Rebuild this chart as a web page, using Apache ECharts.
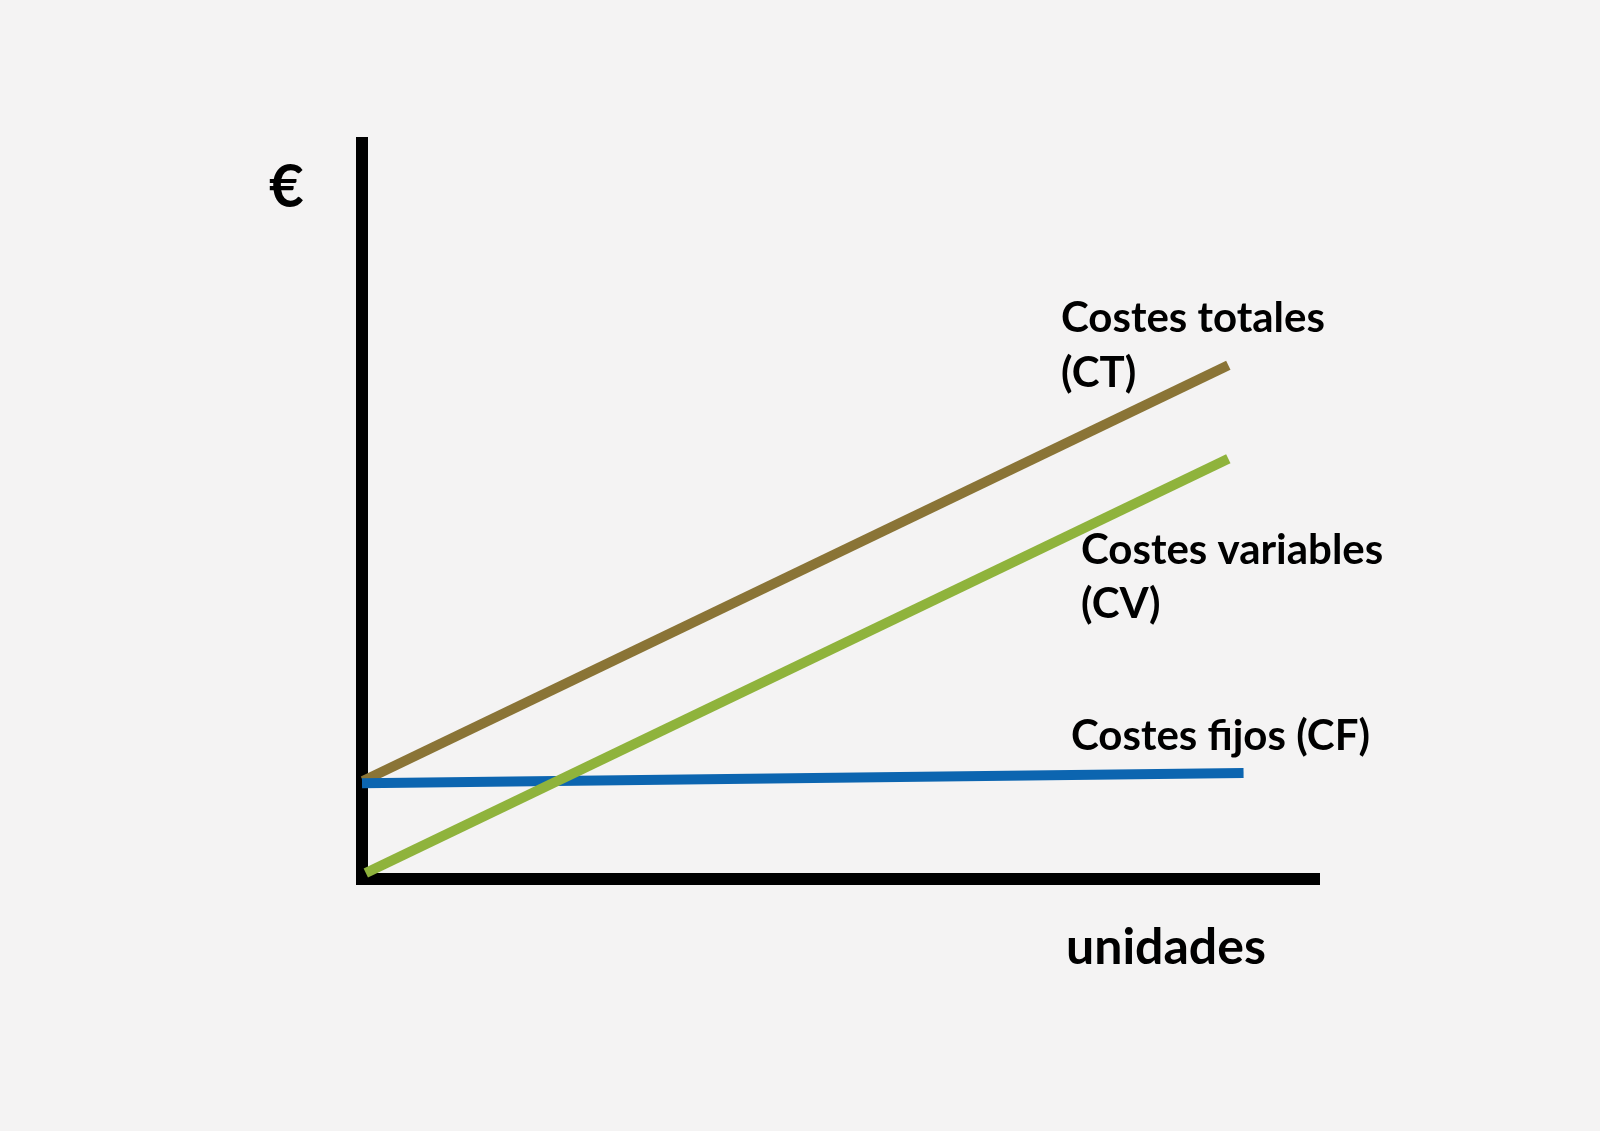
<!DOCTYPE html>
<html>
<head>
<meta charset="utf-8">
<script src="https://cdn.jsdelivr.net/npm/echarts@6/dist/echarts.min.js"></script>
<style>
html,body{margin:0;padding:0;background:#f4f3f3;}
#c{width:1600px;height:1131px;}
</style>
</head>
<body>
<div id="c"></div>
<script>
// Data (x: unidades, y: €), arbitrary 0-100 scale
const costesTotales = [[0.1, 13.3], [91.0, 69.8]];
const costesVariables = [[0.4, 0.8], [91.0, 57.1]];
const costesFijos = [[0.0, 13.0], [92.6, 14.4]];

const labelCT = ['Costes totales', '(CT)'];
const labelCV = ['Costes variables', '(CV)'];
const labelCF = 'Costes fijos (CF)';
const xName = 'unidades';
const yName = '€';

const chart = echarts.init(document.getElementById('c'), null, {renderer: 'canvas'});
const font = (s) => 'bold ' + s + 'px Lato';
function txt(t, x, y, size) {
  return {type: 'text', style: {text: t, x: x, y: y, font: font(size), fill: '#000', textVerticalAlign: 'middle'}};
}
chart.setOption({
  backgroundColor: '#f4f3f3',
  animation: false,
  grid: {left: 362, right: 286, top: 143, bottom: 252},
  xAxis: {
    type: 'value', min: 0, max: 100,
    axisLine: {show: true, lineStyle: {color: '#000', width: 12, cap: 'square'}},
    axisTick: {show: false}, axisLabel: {show: false}, splitLine: {show: false}
  },
  yAxis: {
    type: 'value', min: 0, max: 100,
    axisLine: {show: true, lineStyle: {color: '#000', width: 12, cap: 'square'}},
    axisTick: {show: false}, axisLabel: {show: false}, splitLine: {show: false}
  },
  series: [
    {name: 'CT', type: 'line', data: costesTotales, symbol: 'none', z: 3,
     lineStyle: {color: '#8a7436', width: 10, cap: 'butt'}},
    {name: 'CF', type: 'line', data: costesFijos, symbol: 'none', z: 4,
     lineStyle: {color: '#0c65b0', width: 10, cap: 'butt'}},
    {name: 'CV', type: 'line', data: costesVariables, symbol: 'none', z: 5,
     lineStyle: {color: '#8fb33c', width: 10, cap: 'butt'}}
  ],
  graphic: [
    txt(yName, 269, 188, 60),
    txt(labelCT[0], 1061, 318, 42),
    txt(labelCT[1], 1061, 373, 42),
    txt(labelCV[0], 1081, 550, 42),
    txt(labelCV[1], 1081, 604, 42),
    txt(labelCF, 1071, 736, 42),
    txt(xName, 1066, 948, 50)
  ]
});
</script>
</body>
</html>
